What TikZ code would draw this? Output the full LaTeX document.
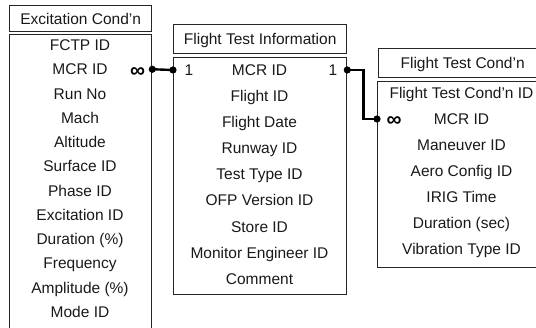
\documentclass[tikz,border=0pt]{standalone}
\usepackage{fontspec}
\setmainfont{Liberation Sans}
\begin{document}
\begin{tikzpicture}[x=1pt, y=-1pt,
  font=\fontsize{15.5}{18}\selectfont,
  box/.style={draw=black!85, line width=1.3pt, inner sep=0pt, anchor=north west},
  field/.style={inner sep=0pt, text height=11pt, text depth=0pt, text=black!90},
  link/.style={line width=2.4pt, draw=black},
  cardmany/.style={inner sep=0pt, text height=15.5pt, text depth=0pt, font=\fontsize{21}{22}\selectfont\bfseries}]

\useasboundingbox (0,0) rectangle (536,328);

% ---- Excitation Cond'n table ----
\node[box, minimum width=142pt, minimum height=26pt, field, anchor=north west,
      text height=11pt] (ltitle) at (9,5) {Excitation Cond'n};
\node[box, minimum width=142pt, minimum height=306pt] (lbody) at (9,34) {};
\foreach \t [count=\i from 0] in {FCTP ID, MCR ID, Run No, Mach, Altitude, Surface ID,
    Phase ID, Excitation ID, Duration (\%), Frequency, Amplitude (\%), Mode ID}
  \node[field] (l\i) at (80, 45+24.27*\i) {\t};

% ---- Flight Test Information table ----
\node[box, minimum width=173pt, minimum height=29pt, field, anchor=north west]
      (mtitle) at (173,24) {Flight Test Information};
\node[box, minimum width=173pt, minimum height=237pt] (mbody) at (173,57) {};
\foreach \t [count=\i from 0] in {MCR ID, Flight ID, Flight Date, Runway ID, Test Type ID,
    OFP Version ID, Store ID, Monitor Engineer ID, Comment}
  \node[field] (m\i) at (259.5, 70+26.1*\i) {\t};

% ---- Flight Test Cond'n table ----
\node[box, minimum width=168pt, minimum height=29pt, field, anchor=north west]
      (rtitle) at (378,48) {Flight Test Cond'n};
\node[box, minimum width=169pt, minimum height=186pt] (rbody) at (377,81) {};
\foreach \t [count=\i from 0] in {Flight Test Cond'n ID, MCR ID, Maneuver ID, Aero Config ID,
    IRIG Time, Duration (sec), Vibration Type ID}
  \node[field] (r\i) at (461.5, 93+26*\i) {\t};

% ---- relationships ----
\draw[link] (lbody.east |- l1) -- (mbody.west |- m0);
\fill (lbody.east |- l1) circle (3.6pt);
\fill (mbody.west |- m0) circle (3.6pt);
\node[cardmany] (lmany) at (137.5,70) {∞};
\node[field] (lone) at (189,70) {1};

\draw[link] (mbody.east |- m0) -- ++(16,0) |- (rbody.west |- r1);
\fill (mbody.east |- m0) circle (3.6pt);
\fill (rbody.west |- r1) circle (3.6pt);
\node[field] (rone) at (333,70) {1};
\node[cardmany] (rmany) at (394,119) {∞};
\end{tikzpicture}
\end{document}
